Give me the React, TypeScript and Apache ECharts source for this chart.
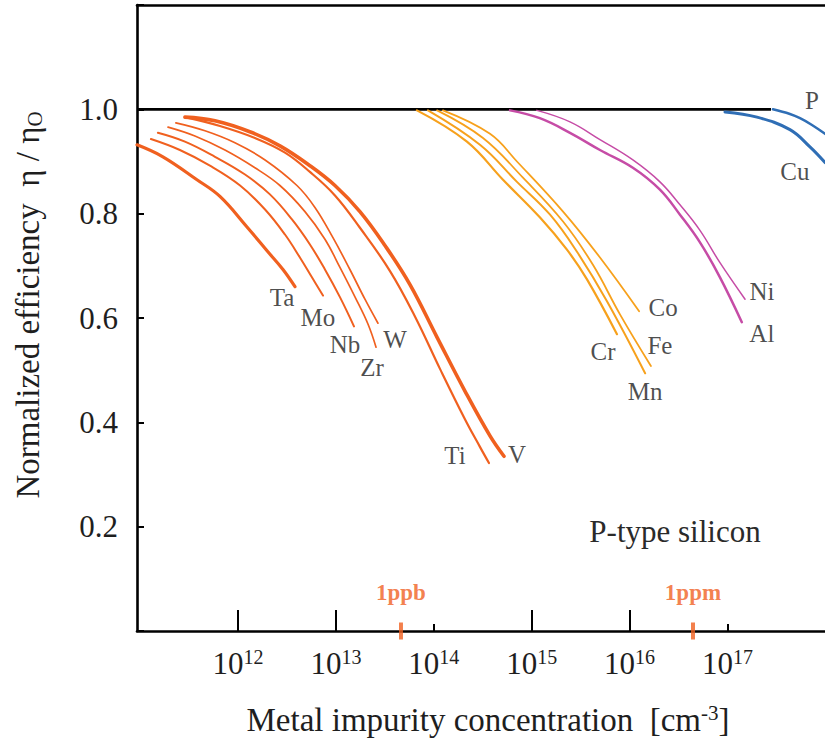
import React, { useEffect, useRef } from "react";
import * as echarts from "echarts";

const SERIF = '"Liberation Serif", "Times New Roman", serif';
const TEXT = "#1e1e1e";

// ---- axis ticks ----
const decadeTicks = [1e12, 1e13, 1e14, 1e15, 1e16, 1e17];
const longTicks = [1e12, 1e13, 1e15, 1e16];
const shortTicks = [1e14, 1e17];
const yTickLabels = [0.2, 0.4, 0.6, 0.8, 1.0];

// ---- data: impurity concentration (cm^-3) vs normalized efficiency ----
const taX = [9.3e10, 1.71e11, 3.81e11, 6.54e11, 1.23e12, 2.02e12, 2.88e12, 3.82e12];
const taY = [0.932, 0.909, 0.865, 0.833, 0.775, 0.727, 0.693, 0.66];

const moX = [1.29e11, 2.55e11, 5.17e11, 1.05e12, 1.89e12, 3.02e12, 4.29e12, 5.69e12, 7.38e12];
const moY = [0.943, 0.922, 0.892, 0.854, 0.808, 0.76, 0.716, 0.678, 0.643];

const nbX = [1.52e11, 2.87e11, 5.82e11, 1.18e12, 2.12e12, 3.56e12, 5.43e12, 7.73e12, 1.1e13, 1.53e13];
const nbY = [0.955, 0.938, 0.909, 0.875, 0.837, 0.789, 0.741, 0.693, 0.64, 0.584];

const zrX = [1.93e11, 3.63e11, 7.36e11, 1.49e12, 2.68e12, 4.83e12, 7.73e12, 1.1e13, 1.57e13, 2.13e13, 2.57e13];
const zrY = [0.966, 0.949, 0.922, 0.888, 0.854, 0.804, 0.751, 0.697, 0.64, 0.588, 0.544];

const wX = [2.32e11, 4.6e11, 9.31e11, 1.89e12, 4.0e12, 6.11e12, 9.33e12, 1.39e13, 1.98e13, 2.69e13];
const wY = [0.974, 0.959, 0.936, 0.903, 0.854, 0.812, 0.754, 0.693, 0.636, 0.59];

const tiX = [2.87e11, 6.54e11, 1.49e12, 3.02e12, 5.43e12, 9.78e12, 1.76e13, 3.57e13, 6.42e13, 1.16e14, 2.08e14, 2.96e14, 3.66e14];
const tiY = [0.985, 0.968, 0.945, 0.917, 0.88, 0.835, 0.773, 0.69, 0.603, 0.502, 0.406, 0.353, 0.322];

const vX = [2.87e11, 5.82e11, 1.32e12, 2.68e12, 5.43e12, 9.78e12, 1.76e13, 3.17e13, 5.71e13, 1.08e14, 2.08e14, 3.75e14, 5.21e14];
const vY = [0.985, 0.978, 0.957, 0.93, 0.892, 0.854, 0.804, 0.739, 0.664, 0.563, 0.46, 0.374, 0.335];

const crX = [6.73e13, 2.18e14, 5.09e14, 1.21e15, 2.29e15, 3.67e15, 7.43e15];
const crY = [0.998, 0.938, 0.865, 0.793, 0.731, 0.674, 0.569];

const mnX = [8.71e13, 2.96e14, 7.07e14, 1.54e15, 2.9e15, 5.87e15, 1.44e16];
const mnY = [0.998, 0.932, 0.861, 0.798, 0.727, 0.632, 0.494];

const feX = [1.08e14, 3.18e14, 8.14e14, 2.09e15, 4.22e15, 7.97e15, 1.65e16];
const feY = [0.998, 0.945, 0.869, 0.785, 0.702, 0.607, 0.508];

const coX = [1.24e14, 3.75e14, 7.07e14, 2.09e15, 4.98e15, 1.25e16];
const coY = [0.998, 0.953, 0.9, 0.804, 0.716, 0.613];

const niX = [1.13e15, 2.46e15, 4.98e15, 1.08e16, 2.04e16, 3.27e16, 5.23e16, 8.37e16, 1.51e17];
const niY = [0.998, 0.976, 0.942, 0.903, 0.861, 0.817, 0.768, 0.706, 0.636];

const alX = [6.0e14, 1.21e15, 2.46e15, 4.98e15, 1.08e16, 2.04e16, 3.27e16, 5.23e16, 8.37e16, 1.4e17];
const alY = [0.998, 0.983, 0.955, 0.922, 0.888, 0.846, 0.798, 0.745, 0.678, 0.592];

const pX = [2.91e17, 4.34e17, 5.5e17, 7.29e17, 9.9e17];
const pY = [1.0, 0.991, 0.983, 0.97, 0.953];

const cuX = [9.42e16, 2.0e17, 4.34e17, 6.95e17, 9.9e17];
const cuY = [0.995, 0.985, 0.961, 0.928, 0.898];

const unityX = [9.3e10, 2.78e17];
const unityY = [1.0, 1.0];

const markerNames = ["1ppb", "1ppm"];
const markerX = [4.62e13, 4.44e16];
const markerY = [0, 0];

// ---- styling ----
const RED = "#F0601F";
const AMBER = "#F7A11C";
const MAGENTA = "#C64CA6";
const BLUE = "#2F6EB5";

type Curve = {
  name: string;
  x: number[];
  y: number[];
  color: string;
  width: number;
  labelIndex: number;
  offset: [number, number];
};

const curves: Curve[] = [
  { name: "Ta", x: taX, y: taY, color: RED, width: 3.2, labelIndex: -1, offset: [-13, 11] },
  { name: "Mo", x: moX, y: moY, color: RED, width: 2, labelIndex: -1, offset: [-5, 22] },
  { name: "Nb", x: nbX, y: nbY, color: RED, width: 2, labelIndex: -1, offset: [-9, 18] },
  { name: "Zr", x: zrX, y: zrY, color: RED, width: 1.7, labelIndex: -1, offset: [-4, 20] },
  { name: "W", x: wX, y: wY, color: RED, width: 1.7, labelIndex: -1, offset: [17, 16] },
  { name: "Ti", x: tiX, y: tiY, color: RED, width: 2.2, labelIndex: -1, offset: [-34, -8] },
  { name: "V", x: vX, y: vY, color: RED, width: 3.6, labelIndex: -1, offset: [13, -2] },
  { name: "Cr", x: crX, y: crY, color: AMBER, width: 2.2, labelIndex: -1, offset: [-14, 17] },
  { name: "Mn", x: mnX, y: mnY, color: AMBER, width: 2, labelIndex: -1, offset: [0, 18] },
  { name: "Fe", x: feX, y: feY, color: AMBER, width: 1.8, labelIndex: -1, offset: [9, -20] },
  { name: "Co", x: coX, y: coY, color: AMBER, width: 1.8, labelIndex: -1, offset: [24, -4] },
  { name: "Ni", x: niX, y: niY, color: MAGENTA, width: 1.5, labelIndex: -1, offset: [17, -8] },
  { name: "Al", x: alX, y: alY, color: MAGENTA, width: 2.5, labelIndex: -1, offset: [20, 11] },
  { name: "P", x: pX, y: pY, color: BLUE, width: 2.5, labelIndex: 0, offset: [39, -9] },
  { name: "Cu", x: cuX, y: cuY, color: BLUE, width: 3, labelIndex: 2, offset: [5, 42] },
];

const zip = (xs: number[], ys: number[]) => xs.map((v, i) => [v, ys[i]]);

export default function App() {
  const ref = useRef<HTMLDivElement>(null);

  useEffect(() => {
    document.body.style.margin = "0";
    if (!ref.current) return;
    const chart = echarts.init(ref.current, null, { renderer: "svg" });

    const lineSeries = curves.map((c) => ({
      type: "line",
      name: c.name,
      data: zip(c.x, c.y),
      smooth: 0.4,
      symbol: "none",
      showSymbol: false,
      silent: true,
      z: 3,
      lineStyle: { color: c.color, width: c.width, cap: "round", join: "round" },
    }));

    const labelData = curves.map((c) => {
      const i = c.labelIndex < 0 ? c.x.length - 1 : c.labelIndex;
      return { name: c.name, value: [c.x[i], c.y[i]], label: { offset: c.offset } };
    });

    const option: any = {
      animation: false,
      backgroundColor: "#ffffff",
      grid: { left: 137, right: 0, top: 5, bottom: 110, containLabel: false },
      xAxis: [
        {
          type: "log",
          logBase: 10,
          min: 9.3e10,
          max: 9.9e17,
          position: "bottom",
          axisLine: { show: true, lineStyle: { color: "#000", width: 2.6 } },
          axisTick: {
            show: true,
            inside: true,
            length: 21,
            customValues: longTicks,
            lineStyle: { color: "#000", width: 2 },
          },
          minorTick: { show: false },
          splitLine: { show: false },
          axisLabel: {
            show: true,
            customValues: decadeTicks,
            margin: 16,
            formatter: (v: number) => `{b|10}{s|${Math.round(Math.log10(v))}}`,
            rich: {
              b: { fontSize: 31, fontFamily: SERIF, color: TEXT },
              s: { fontSize: 20, fontFamily: SERIF, color: TEXT, padding: [0, 0, 12, 0] },
            },
          },
        },
        {
          type: "value",
          position: "top",
          min: 0,
          max: 1,
          axisLine: { show: true, lineStyle: { color: "#000", width: 2.6 } },
          axisTick: { show: false },
          axisLabel: { show: false },
          splitLine: { show: false },
        },
        {
          type: "log",
          logBase: 10,
          min: 9.3e10,
          max: 9.9e17,
          position: "bottom",
          axisLine: { show: false },
          axisTick: {
            show: true,
            inside: true,
            length: 7,
            customValues: shortTicks,
            lineStyle: { color: "#000", width: 2 },
          },
          axisLabel: { show: false },
          splitLine: { show: false },
        },
      ],
      yAxis: {
        type: "value",
        min: 0,
        max: 1.2,
        interval: 0.2,
        axisLine: { show: true, lineStyle: { color: "#000", width: 2.6 } },
        axisTick: { show: true, inside: true, length: 7, lineStyle: { color: "#000", width: 2 } },
        splitLine: { show: false },
        axisLabel: {
          customValues: yTickLabels,
          margin: 19,
          fontSize: 31,
          fontFamily: SERIF,
          color: TEXT,
          formatter: (v: number) => v.toFixed(1),
        },
      },
      graphic: [
        {
          type: "text",
          x: 28,
          y: 305,
          rotation: Math.PI / 2,
          silent: true,
          style: {
            text: "{t|Normalized efficiency  η / η}{o|O}",
            align: "center",
            verticalAlign: "middle",
            textAlign: "center",
            textVerticalAlign: "middle",
            fill: TEXT,
            rich: {
              t: { fontSize: 33, fontFamily: SERIF, fill: TEXT, color: TEXT },
              o: { fontSize: 21, fontFamily: SERIF, fill: TEXT, color: TEXT, padding: [14, 0, 0, 0] },
            },
          },
        },
        {
          type: "text",
          x: 488,
          y: 720,
          silent: true,
          style: {
            text: "{t|Metal impurity concentration  [cm}{s|-3}{t|]}",
            align: "center",
            verticalAlign: "middle",
            textAlign: "center",
            textVerticalAlign: "middle",
            fill: TEXT,
            rich: {
              t: { fontSize: 33, fontFamily: SERIF, fill: TEXT, color: TEXT },
              s: { fontSize: 21, fontFamily: SERIF, fill: TEXT, color: TEXT, padding: [0, 0, 14, 0] },
            },
          },
        },
        {
          type: "text",
          x: 675,
          y: 531,
          silent: true,
          style: {
            text: "P-type silicon",
            align: "center",
            verticalAlign: "middle",
            textAlign: "center",
            textVerticalAlign: "middle",
            fontSize: 31,
            fontFamily: SERIF,
            fill: "#2a2a2a",
          },
        },
      ],
      series: [
        {
          type: "line",
          name: "unity",
          data: zip(unityX, unityY),
          symbol: "none",
          showSymbol: false,
          silent: true,
          z: 2,
          lineStyle: { color: "#000", width: 2.6 },
        },
        ...lineSeries,
        {
          type: "scatter",
          name: "labels",
          data: labelData,
          symbol: "circle",
          symbolSize: 1,
          silent: true,
          z: 6,
          itemStyle: { color: "rgba(0,0,0,0)" },
          label: {
            show: true,
            position: "inside",
            formatter: (p: any) => p.name,
            fontSize: 25,
            fontFamily: SERIF,
            color: TEXT,
          },
        },
        {
          type: "scatter",
          name: "markers",
          data: markerNames.map((n, i) => ({ name: n, value: [markerX[i], markerY[i]] })),
          symbol: "rect",
          symbolSize: [4, 17],
          silent: true,
          clip: false,
          z: 7,
          itemStyle: { color: RED },
          label: {
            show: true,
            position: "inside",
            offset: [0, -39],
            formatter: (p: any) => p.name,
            fontSize: 23,
            fontWeight: "bold",
            fontFamily: SERIF,
            color: RED,
          },
        },
      ],
    };

    chart.setOption(option);
    return () => chart.dispose();
  }, []);

  return <div ref={ref} style={{ width: 825, height: 741 }} />;
}
